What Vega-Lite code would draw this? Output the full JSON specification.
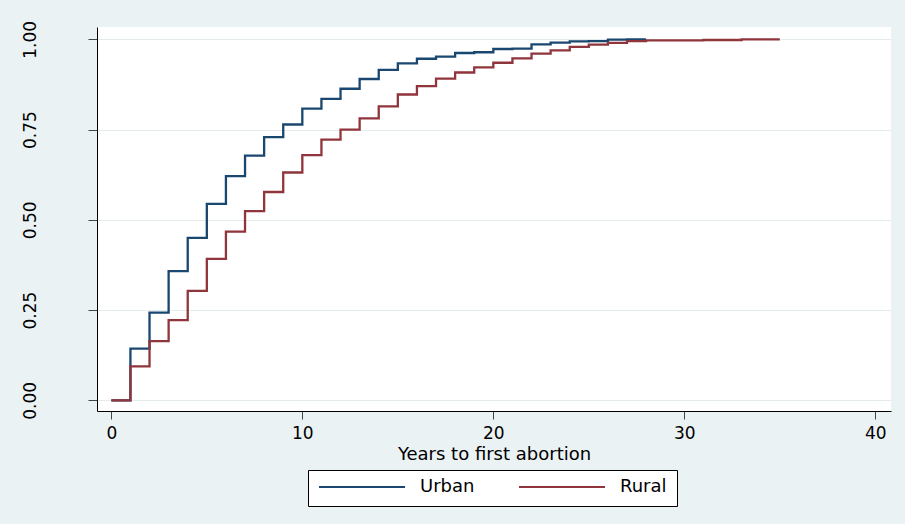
{
  "$schema": "https://vega.github.io/schema/vega-lite/v6.json",
  "width": 794,
  "height": 384,
  "autosize": {"type": "none"},
  "padding": {"left": 97, "top": 27, "right": 14, "bottom": 113},
  "background": "#EAF2F3",
  "config": {
    "view": {"fill": "white", "stroke": null},
    "font": "DejaVu Sans"
  },
  "data": {
    "values": [
      {"t": 0, "F": 0, "area": "Urban"},
      {"t": 1, "F": 0.143, "area": "Urban"},
      {"t": 2, "F": 0.243, "area": "Urban"},
      {"t": 3, "F": 0.358, "area": "Urban"},
      {"t": 4, "F": 0.450, "area": "Urban"},
      {"t": 5, "F": 0.544, "area": "Urban"},
      {"t": 6, "F": 0.621, "area": "Urban"},
      {"t": 7, "F": 0.678, "area": "Urban"},
      {"t": 8, "F": 0.729, "area": "Urban"},
      {"t": 9, "F": 0.764, "area": "Urban"},
      {"t": 10, "F": 0.808, "area": "Urban"},
      {"t": 11, "F": 0.835, "area": "Urban"},
      {"t": 12, "F": 0.863, "area": "Urban"},
      {"t": 13, "F": 0.890, "area": "Urban"},
      {"t": 14, "F": 0.915, "area": "Urban"},
      {"t": 15, "F": 0.933, "area": "Urban"},
      {"t": 16, "F": 0.946, "area": "Urban"},
      {"t": 17, "F": 0.952, "area": "Urban"},
      {"t": 18, "F": 0.962, "area": "Urban"},
      {"t": 19, "F": 0.964, "area": "Urban"},
      {"t": 20, "F": 0.973, "area": "Urban"},
      {"t": 21, "F": 0.974, "area": "Urban"},
      {"t": 22, "F": 0.986, "area": "Urban"},
      {"t": 23, "F": 0.991, "area": "Urban"},
      {"t": 24, "F": 0.994, "area": "Urban"},
      {"t": 25, "F": 0.995, "area": "Urban"},
      {"t": 26, "F": 0.999, "area": "Urban"},
      {"t": 27, "F": 1.0, "area": "Urban"},
      {"t": 28, "F": 1.0, "area": "Urban"},
      {"t": 0, "F": 0, "area": "Rural"},
      {"t": 1, "F": 0.094, "area": "Rural"},
      {"t": 2, "F": 0.164, "area": "Rural"},
      {"t": 3, "F": 0.222, "area": "Rural"},
      {"t": 4, "F": 0.303, "area": "Rural"},
      {"t": 5, "F": 0.392, "area": "Rural"},
      {"t": 6, "F": 0.467, "area": "Rural"},
      {"t": 7, "F": 0.524, "area": "Rural"},
      {"t": 8, "F": 0.577, "area": "Rural"},
      {"t": 9, "F": 0.631, "area": "Rural"},
      {"t": 10, "F": 0.679, "area": "Rural"},
      {"t": 11, "F": 0.722, "area": "Rural"},
      {"t": 12, "F": 0.750, "area": "Rural"},
      {"t": 13, "F": 0.781, "area": "Rural"},
      {"t": 14, "F": 0.814, "area": "Rural"},
      {"t": 15, "F": 0.847, "area": "Rural"},
      {"t": 16, "F": 0.870, "area": "Rural"},
      {"t": 17, "F": 0.891, "area": "Rural"},
      {"t": 18, "F": 0.908, "area": "Rural"},
      {"t": 19, "F": 0.922, "area": "Rural"},
      {"t": 20, "F": 0.935, "area": "Rural"},
      {"t": 21, "F": 0.947, "area": "Rural"},
      {"t": 22, "F": 0.960, "area": "Rural"},
      {"t": 23, "F": 0.969, "area": "Rural"},
      {"t": 24, "F": 0.979, "area": "Rural"},
      {"t": 25, "F": 0.985, "area": "Rural"},
      {"t": 26, "F": 0.990, "area": "Rural"},
      {"t": 27, "F": 0.995, "area": "Rural"},
      {"t": 28, "F": 0.997, "area": "Rural"},
      {"t": 31, "F": 0.998, "area": "Rural"},
      {"t": 33, "F": 1.0, "area": "Rural"},
      {"t": 35, "F": 1.0, "area": "Rural"}
    ]
  },
  "mark": {"type": "line", "interpolate": "step-after", "strokeWidth": 2.3},
  "encoding": {
    "x": {
      "field": "t",
      "type": "quantitative",
      "scale": {"domain": [-0.75, 40.82], "nice": false, "zero": false},
      "axis": {
        "values": [0, 10, 20, 30, 40],
        "grid": false,
        "domainColor": "black",
        "domainWidth": 1,
        "tickColor": "#444444",
        "tickSize": 8,
        "labelPadding": 6,
        "labelFontSize": 17,
        "labelColor": "black",
        "labelFont": "DejaVu Sans",
        "title": "Years to first abortion",
        "titleFont": "DejaVu Sans",
        "titleFontSize": 18,
        "titleFontWeight": "normal",
        "titleColor": "black",
        "titleBaseline": "top",
        "titleY": 34
      }
    },
    "y": {
      "field": "F",
      "type": "quantitative",
      "scale": {"domain": [-0.0296, 1.034], "nice": false, "zero": false},
      "axis": {
        "values": [0, 0.25, 0.5, 0.75, 1],
        "format": ".2f",
        "grid": true,
        "gridColor": "#E4ECEE",
        "gridWidth": 1,
        "domainColor": "black",
        "domainWidth": 1,
        "tickColor": "#444444",
        "tickSize": 9,
        "labelAngle": -90,
        "labelAlign": "center",
        "labelBaseline": "alphabetic",
        "labelPadding": 53,
        "labelFontSize": 17,
        "labelColor": "black",
        "labelFont": "DejaVu Sans",
        "title": null
      }
    },
    "color": {
      "field": "area",
      "type": "nominal",
      "scale": {"domain": ["Urban", "Rural"], "range": ["#1A476F", "#90353B"]},
      "legend": {
        "title": null,
        "orient": "none",
        "legendX": 211,
        "legendY": 443,
        "direction": "horizontal",
        "columns": 2,
        "gridAlign": "each",
        "symbolType": "stroke",
        "symbolSize": 7396,
        "symbolStrokeWidth": 2,
        "clipHeight": 14,
        "labelOffset": 14,
        "columnPadding": 43,
        "padding": 10,
        "strokeColor": "black",
        "fillColor": "white",
        "labelFontSize": 18,
        "labelFont": "DejaVu Sans",
        "labelColor": "black"
      }
    }
  }
}
